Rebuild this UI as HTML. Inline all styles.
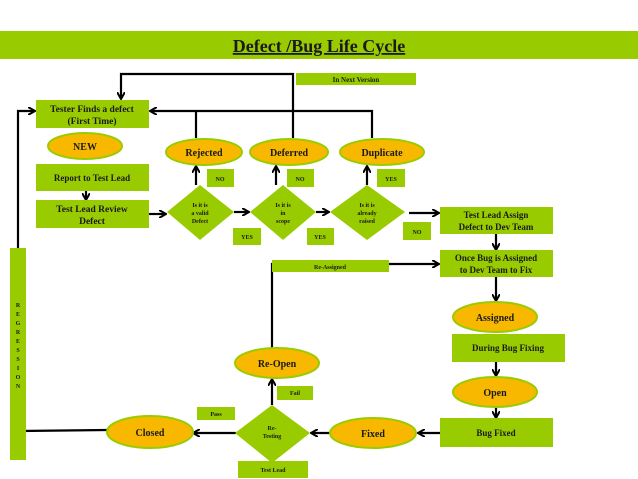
<!DOCTYPE html>
<html><head><style>
body{margin:0;background:#fff;}
svg{display:block;font-family:"Liberation Serif",serif;font-weight:bold;}
.g{fill:#99cc00;}
.e{fill:#f9b800;stroke:#99cc00;stroke-width:2;}
.l{stroke:#000;stroke-width:2.2;fill:none;}
text{text-anchor:middle;fill:#1a1a1a;}
</style></head><body>
<svg width="638" height="479" viewBox="0 0 638 479">
<defs><marker id="a" markerWidth="8" markerHeight="8" refX="6" refY="4" orient="auto" markerUnits="userSpaceOnUse"><path d="M0,0 L7,4 L0,8" fill="none" stroke="#000" stroke-width="2"/></marker></defs>
<rect x="0" y="31" width="638" height="28" class="g"/>
<text x="319" y="52" font-size="18" text-decoration="underline">Defect /Bug Life Cycle</text>
<rect x="296" y="73" width="120" height="12" class="g"/><text x="356" y="82" font-size="7">In Next Version</text>
<!-- lines -->
<path class="l" d="M293,138 V74 H121 V98" marker-end="url(#a)"/>
<path class="l" d="M372,138 V111 H151" marker-end="url(#a)"/>
<path class="l" d="M196,138 V111"/>
<path class="l" d="M196,185 V167" marker-end="url(#a)"/>
<path class="l" d="M276,185 V167" marker-end="url(#a)"/>
<path class="l" d="M367,185 V167" marker-end="url(#a)"/>
<path class="l" d="M86,191 V199" marker-end="url(#a)"/>
<path class="l" d="M149,214 H165" marker-end="url(#a)"/>
<path class="l" d="M234,212 H248" marker-end="url(#a)"/>
<path class="l" d="M316,212 H328" marker-end="url(#a)"/>
<path class="l" d="M409,213 H438" marker-end="url(#a)"/>
<path class="l" d="M496,234 V249" marker-end="url(#a)"/>
<path class="l" d="M389,264 H438" marker-end="url(#a)"/>
<path class="l" d="M496,277 V300" marker-end="url(#a)"/>
<path class="l" d="M496,333 V332"/>
<path class="l" d="M496,362 V375" marker-end="url(#a)"/>
<path class="l" d="M496,408 V417" marker-end="url(#a)"/>
<path class="l" d="M440,433 H419" marker-end="url(#a)"/>
<path class="l" d="M330,433 H312" marker-end="url(#a)"/>
<path class="l" d="M236,433 H194" marker-end="url(#a)"/>
<path class="l" d="M272,405 V380" marker-end="url(#a)"/>
<path class="l" d="M272,348 V264 H278"/>
<path class="l" d="M107,430 L21,431 V460"/>
<path class="l" d="M18,250 V111 H34" marker-end="url(#a)"/>
<!-- boxes -->
<rect x="36" y="100" width="113" height="28" class="g"/><text x="92" y="112" font-size="9.5">Tester Finds a defect</text><text x="92" y="124" font-size="9.5">(First Time)</text>
<ellipse cx="85" cy="146" rx="37" ry="13" class="e"/><text x="85" y="150" font-size="10">NEW</text>
<rect x="36" y="164" width="113" height="27" class="g"/><text x="92" y="181" font-size="9">Report to Test Lead</text>
<rect x="36" y="200" width="113" height="28" class="g"/><text x="92" y="212" font-size="9.5">Test Lead Review</text><text x="92" y="224" font-size="9.5">Defect</text>
<polygon points="200,185 234,212 200,240 167,212" class="g"/><text x="200" y="207" font-size="6">Is it is</text><text x="200" y="215" font-size="6">a valid</text><text x="200" y="223" font-size="6">Defect</text>
<polygon points="283,185 316,212 283,240 250,212" class="g"/><text x="283" y="207" font-size="6">Is it is</text><text x="283" y="215" font-size="6">in</text><text x="283" y="223" font-size="6">scope</text>
<polygon points="367,185 405,212 367,240 330,212" class="g"/><text x="367" y="207" font-size="6">Is it is</text><text x="367" y="215" font-size="6">already</text><text x="367" y="223" font-size="6">raised</text>
<ellipse cx="204" cy="152" rx="38" ry="13" class="e"/><text x="204" y="156" font-size="10">Rejected</text>
<ellipse cx="289" cy="152" rx="39" ry="13" class="e"/><text x="289" y="156" font-size="10">Deferred</text>
<ellipse cx="382" cy="152" rx="42" ry="13" class="e"/><text x="382" y="156" font-size="10">Duplicate</text>
<rect x="207" y="169" width="27" height="18" class="g"/><text x="220" y="181" font-size="6">NO</text>
<rect x="287" y="169" width="27" height="18" class="g"/><text x="300" y="181" font-size="6">NO</text>
<rect x="377" y="169" width="28" height="18" class="g"/><text x="391" y="181" font-size="6">YES</text>
<rect x="233" y="228" width="28" height="17" class="g"/><text x="247" y="239" font-size="6">YES</text>
<rect x="307" y="228" width="27" height="17" class="g"/><text x="320" y="239" font-size="6">YES</text>
<rect x="403" y="222" width="28" height="18" class="g"/><text x="417" y="234" font-size="6">NO</text>
<rect x="440" y="207" width="113" height="27" class="g"/><text x="496" y="218" font-size="9">Test Lead Assign</text><text x="496" y="230" font-size="9">Defect to Dev Team</text>
<rect x="440" y="250" width="113" height="27" class="g"/><text x="496" y="261" font-size="9">Once Bug is Assigned</text><text x="496" y="273" font-size="9">to Dev Team to Fix</text>
<rect x="272" y="260" width="117" height="12" class="g"/><text x="330" y="269" font-size="6">Re-Assigned</text>
<ellipse cx="495" cy="317" rx="42" ry="15" class="e"/><text x="495" y="321" font-size="10">Assigned</text>
<rect x="452" y="334" width="113" height="28" class="g"/><text x="508" y="351" font-size="9">During Bug Fixing</text>
<ellipse cx="495" cy="392" rx="42" ry="15" class="e"/><text x="495" y="396" font-size="10">Open</text>
<rect x="440" y="418" width="113" height="29" class="g"/><text x="496" y="436" font-size="9">Bug Fixed</text>
<ellipse cx="373" cy="433" rx="43" ry="15" class="e"/><text x="373" y="437" font-size="10">Fixed</text>
<polygon points="272,405 310,433 272,463 235,433" class="g"/><text x="272" y="430" font-size="6">Re-</text><text x="272" y="438" font-size="6">Testing</text>
<rect x="238" y="461" width="70" height="17" class="g"/><text x="273" y="472" font-size="6">Test Lead</text>
<ellipse cx="150" cy="432" rx="43" ry="16" class="e"/><text x="150" y="436" font-size="10">Closed</text>
<rect x="197" y="407" width="38" height="13" class="g"/><text x="216" y="416" font-size="6">Pass</text>
<rect x="277" y="386" width="36" height="14" class="g"/><text x="295" y="395" font-size="6">Fail</text>
<ellipse cx="277" cy="363" rx="42" ry="15" class="e"/><text x="277" y="367" font-size="10">Re-Open</text>
<rect x="10" y="248" width="16" height="212" class="g"/>
<g font-size="6"><text x="18" y="307">R</text><text x="18" y="316">E</text><text x="18" y="325">G</text><text x="18" y="334">R</text><text x="18" y="343">E</text><text x="18" y="352">S</text><text x="18" y="361">S</text><text x="18" y="370">I</text><text x="18" y="379">O</text><text x="18" y="388">N</text></g>
</svg>
</body></html>
